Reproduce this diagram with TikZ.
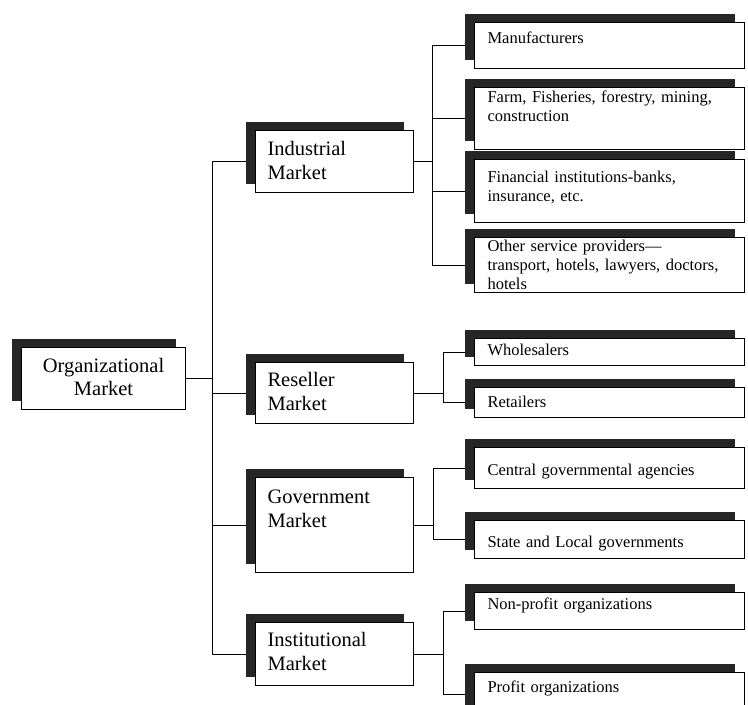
\documentclass[tikz,border=0pt]{standalone}
\usepackage{fontspec}
\setmainfont{Liberation Serif}
\usetikzlibrary{shadows,backgrounds}

\begin{document}
\begin{tikzpicture}
  [x=1pt,y=-1pt,line width=1.1pt,
   box/.style={draw,fill=white,anchor=north west,inner ysep=0pt,align=left,
     general shadow={fill=black!85,shadow xshift=-10pt,shadow yshift=9pt}},
   root/.style={box,align=center,inner xsep=0pt,text width=164pt,font=\fontsize{20.5}{23}\selectfont},
   market/.style={box,inner xsep=12pt,text width=134pt,font=\fontsize{20.5}{24}\selectfont},
   leaf/.style={box,inner xsep=13pt,text width=244pt,font=\fontsize{16.5}{19}\selectfont}]
  \useasboundingbox (0,0) rectangle (748,705);

  \node[root,text height=25pt,text depth=37pt] (org) at (21,347) {Organizational\\Market};

  \node[market,text height=25pt,text depth=37pt] (ind) at (255,130) {Industrial\\Market};
  \node[market,text height=24pt,text depth=37pt] (res) at (255,362) {Reseller\\Market};
  \node[market,text height=26pt,text depth=69pt] (gov) at (255,477) {Government\\Market};
  \node[market,text height=24pt,text depth=39pt] (ins) at (255,622) {Institutional\\Market};

  \node[leaf,text height=21pt,text depth=25pt] (man)  at (474,22)  {Manufacturers};
  \node[leaf,text height=15pt,text depth=47pt] (farm) at (474,87)  {Farm, Fisheries, forestry, mining,\\construction};
  \node[leaf,text height=23pt,text depth=40pt] (fin)  at (474,159) {Financial institutions-banks,\\insurance, etc.};
  \node[leaf,text height=14pt,text depth=41pt] (oth)  at (474,237) {Other service providers---\\transport, hotels, lawyers, doctors,\\hotels};
  \node[leaf,text height=17pt,text depth=10pt] (whl)  at (474,338) {Wholesalers};
  \node[leaf,text height=20pt,text depth=10pt] (ret)  at (474,387) {Retailers};
  \node[leaf,text height=28pt,text depth=13pt] (cen)  at (474,447) {Central governmental agencies};
  \node[leaf,text height=27pt,text depth=11pt] (sta)  at (474,520) {State and Local governments};
  \node[leaf,text height=17pt,text depth=20pt] (non)  at (474,592) {Non-profit organizations};
  \node[leaf,text height=20pt,text depth=23pt] (pro)  at (474,672) {Profit organizations};

  \coordinate (t0) at (212,0);
  \coordinate (t1) at (432,0);
  \coordinate (t2) at (443,0);
  \coordinate (t3) at (433,0);
  \coordinate (t4) at (443,0);

  \begin{scope}[on background layer]
    \draw (org.east) -- (org.east -| t0);
    \draw (t0 |- ind.west) -- (t0 |- ins.west);
    \foreach \to in {ind,res,gov,ins}
    \draw (t0 |- \to.west) -- (\to.west);

    \foreach \from/\to in {ind/t1,res/t2,gov/t3,ins/t4}
    \draw (\from.east) -- (\from.east -| \to);
    \foreach \s/\a/\b in {t1/man/oth,t2/whl/ret,t3/cen/sta,t4/non/pro}
    \draw (\s |- \a.west) -- (\s |- \b.west);
    \foreach \from/\to in {t1/man,t1/farm,t1/fin,t1/oth,t2/whl,t2/ret,t3/cen,t3/sta,t4/non,t4/pro}
    \draw (\from |- \to.west) -- (\to.west);
  \end{scope}

\end{tikzpicture}
\end{document}
